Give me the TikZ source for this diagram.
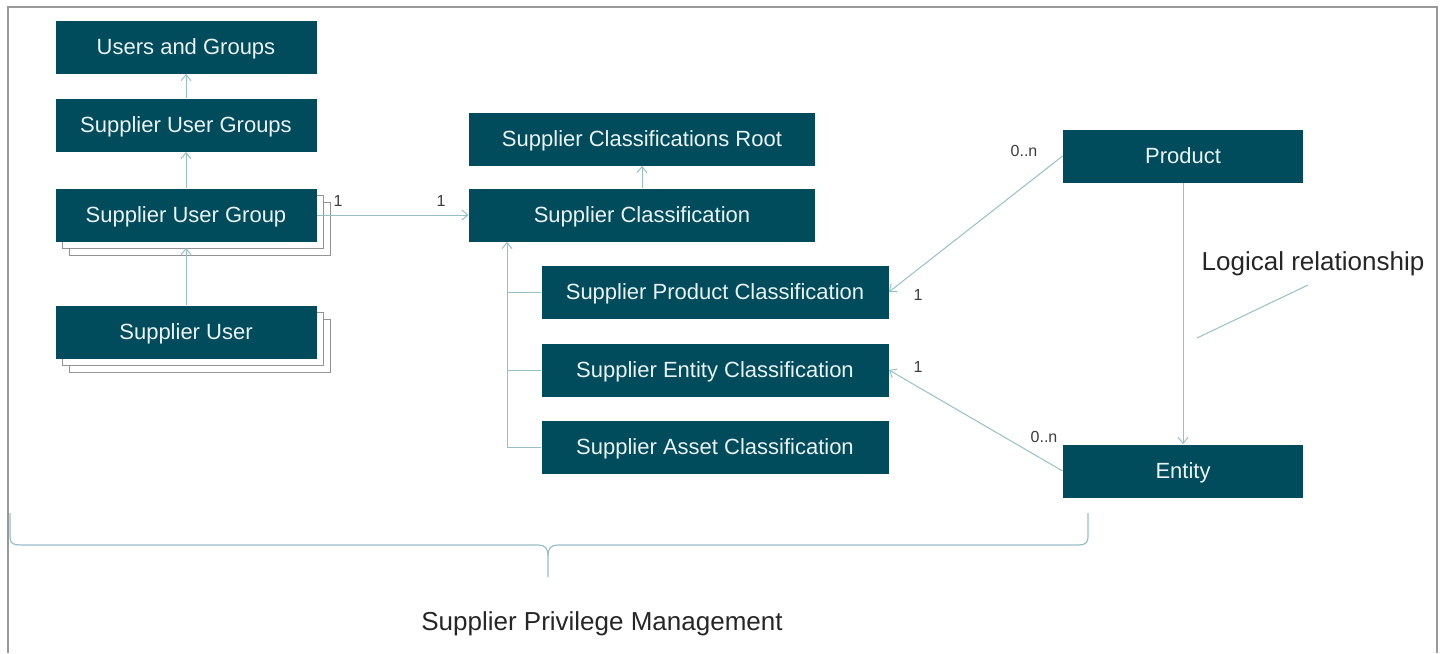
\documentclass[tikz,border=0pt]{standalone}
\usepackage{fontspec}
\setmainfont{Liberation Sans}
\usepackage{xcolor}
\usepackage{tikz}
\usetikzlibrary{arrows.meta,shadows}

\definecolor{boxteal}{RGB}{0,76,92}
\definecolor{boxtext}{RGB}{236,242,242}
\definecolor{linkteal}{RGB}{150,192,198}
\definecolor{labgray}{RGB}{60,60,60}

\begin{document}
\begin{tikzpicture}[x=0.5pt,y=-0.5pt,
  box/.style={fill=boxteal,text=boxtext,font=\fontsize{11}{13}\selectfont,
    minimum height=26.5pt,inner sep=0pt,text height=7.9pt,text depth=0pt},
  stack/.style={double copy shadow={shadow xshift=3.5pt,shadow yshift=-3.5pt,
    fill=white,draw=gray!85,line width=0.5pt}},
  arr/.style={-{Straight Barb[length=3pt,width=5pt]},linkteal,line width=0.5pt},
  link/.style={linkteal,line width=0.5pt},
  mult/.style={font=\fontsize{8}{9}\selectfont,text=labgray,inner sep=0pt}]
  \useasboundingbox (0,0) rectangle (1445,653);
  % Frame
  \draw[gray!80,line width=0.6pt] (8,653) -- (8,7) -- (1437,7) -- (1437,653);
  % Users side
  \node[box,minimum width=130.5pt] (ug)  at (186,47)  {Users and Groups};
  \node[box,minimum width=130.5pt] (sugs) at (186,125) {Supplier User Groups};
  \node[box,stack,minimum width=130.5pt] (sug) at (186,215) {Supplier User Group};
  \node[box,stack,minimum width=130.5pt] (su)  at (186,332) {Supplier User};
  % Classifications
  \node[box,minimum width=173pt] (root) at (642,139) {Supplier Classifications Root};
  \node[box,minimum width=173pt] (cls)  at (642,215) {Supplier Classification};
  \node[box,minimum width=173.5pt] (spc) at (715,292) {Supplier Product Classification};
  \node[box,minimum width=173.5pt] (sec) at (715,370) {Supplier Entity Classification};
  \node[box,minimum width=173.5pt] (sac) at (715,447) {Supplier Asset Classification};
  % Product and entity
  \node[box,minimum width=120pt] (prod) at (1183,156) {Product};
  \node[box,minimum width=120pt] (ent)  at (1183,471) {Entity};
  % Connectors
  \draw[arr] (sugs) -- (ug);
  \draw[arr] (sug) -- (sugs);
  \draw[arr] (su) -- ([yshift=-3pt]sug.south);
  \draw[arr] (sug.east) -- (cls.west);
  \draw[arr] (cls) -- (root);
  \coordinate (bus) at (507,447);
  \draw[arr] (sac.west) -- (bus) -- (bus |- cls.south);
  \draw[link] (spc.west) -- (spc.west -| bus);
  \draw[link] (sec.west) -- (sec.west -| bus);
  \draw[arr] (prod.west) -- (spc.east);
  \draw[arr] (ent.west) -- (sec.east);
  \draw[arr] (prod) -- (ent);
  % Multiplicities
  \node[mult] (m1) at (338,201) {1};
  \node[mult] (m2) at (441,201) {1};
  \node[mult] (m3) at (1024,151) {0..n};
  \node[mult] (m4) at (918,295) {1};
  \node[mult] (m5) at (918,367) {1};
  \node[mult] (m6) at (1044,437) {0..n};
  % Note
  \node[font=\fontsize{13}{15}\selectfont,text=black!85] (logic) at (1313,264) {Logical relationship};
  \coordinate (tip) at (1197,338);
  \draw[link] (1308,285) -- (tip);
  % Brace
  \draw[link,line width=0.6pt] (10,513) -- (10,537) .. controls (10,543) and (13,545) .. (20,545)
    -- (538,545) .. controls (545,545) and (548,548) .. (548,556) -- (548,577);
  \draw[link,line width=0.6pt] (1088,513) -- (1088,537) .. controls (1088,543) and (1085,545) .. (1078,545)
    -- (558,545) .. controls (551,545) and (548,548) .. (548,556);
  \node[font=\fontsize{13}{15}\selectfont,text=black!85] (spm) at (602,624) {Supplier Privilege Management};
\end{tikzpicture}
\end{document}
